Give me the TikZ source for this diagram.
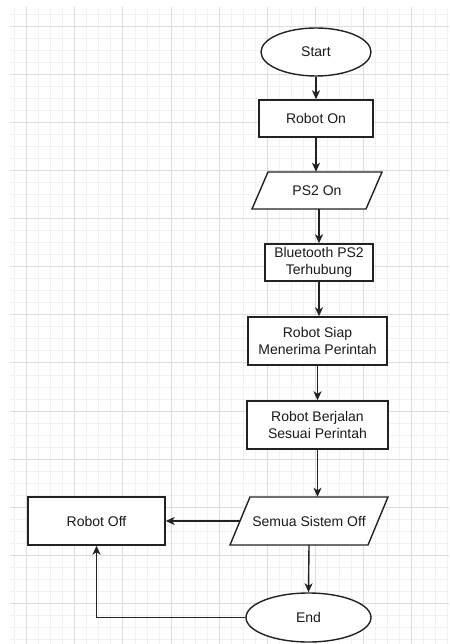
\documentclass[tikz,border=0pt]{standalone}
\usepackage{fontspec}
\setmainfont{Liberation Sans}
\usepackage{tikz}
\usetikzlibrary{shapes.geometric,arrows.meta}
\usepackage{xcolor}

\definecolor{minorgrid}{HTML}{F1F1F1}
\definecolor{majorgrid}{HTML}{DCDCDC}
\definecolor{inktext}{HTML}{1A1A1A}
\definecolor{ink}{HTML}{222222}

\tikzset{
	terminal/.style={ellipse,draw=ink,line width=1.4pt,fill=white,inner sep=0pt,text=inktext},
	process/.style={rectangle,draw=ink,line width=1.4pt,fill=white,inner sep=0pt,align=center,text=inktext},
	inout/.style={rectangle,inner sep=0pt,text=inktext},
	pgram/.style={draw=ink,line width=1.4pt,fill=white,line join=miter},
	flow/.style={draw=ink,line width=1.4pt,-{Stealth[length=9pt,width=8pt,inset=2.5pt]}}
}

\begin{document}
\begin{tikzpicture}[x=1pt,y=-1pt,font=\fontsize{14}{17}\selectfont]
			\useasboundingbox (0,0) rectangle (449,644);
			\fill[white] (0,0) rectangle (449,644);
			% grid
			\foreach \i in {0,...,36}
				\draw[minorgrid,line width=0.8pt] ({14.6+12.03*\i},7) -- ({14.6+12.03*\i},644);
			\foreach \j in {0,...,52}
				\draw[minorgrid,line width=0.8pt] (10,{14+12.03*\j}) -- (449,{14+12.03*\j});
			\foreach \i in {0,...,8}
				\draw[majorgrid,line width=0.9pt] ({26.7+48.12*\i},7) -- ({26.7+48.12*\i},644);
			\foreach \j in {0,...,12}
				\draw[majorgrid,line width=0.9pt] (10,{26+48.12*\j}) -- (449,{26+48.12*\j});

			\coordinate (pStart) at (316,52);
			\coordinate (pOn) at (316,118.5);
			\coordinate (pPs) at (317,190.5);
			\coordinate (pBt) at (319,262.5);
			\coordinate (pSiap) at (317.5,341);
			\coordinate (pJalan) at (317.5,425);
			\coordinate (pSysOff) at (309,521);
			\coordinate (pOff) at (96.5,521);
			\coordinate (pEnd) at (308.5,617.5);

			% parallelograms: outline first, text node on top
			\path (pPs) +(-65,18.5) coordinate (ps2a) +(-49,-18.5) coordinate (ps2b)
				+(65,-18.5) coordinate (ps2c) +(49,18.5) coordinate (ps2d);
			\draw[pgram] (ps2a) -- (ps2b) -- (ps2c) -- (ps2d) -- cycle;
			\path (pSysOff) +(-79,24) coordinate (sysa) +(-59,-24) coordinate (sysb)
				+(79,-24) coordinate (sysc) +(59,24) coordinate (sysd);
			\draw[pgram] (sysa) -- (sysb) -- (sysc) -- (sysd) -- cycle;

			\node[terminal,minimum width=110pt,minimum height=48pt] (start) at (pStart) {Start};
			\node[process,minimum width=114pt,minimum height=37pt] (roboton) at (pOn) {Robot On};
			\node[inout,minimum width=114pt,minimum height=37pt] (ps2on) at (pPs) {PS2 On};
			\node[process,minimum width=108pt,minimum height=37pt] (bluetooth) at (pBt) {Bluetooth PS2\\Terhubung};
			\node[process,minimum width=139pt,minimum height=48pt] (siap) at (pSiap) {Robot Siap\\Menerima Perintah};
			\node[process,minimum width=141pt,minimum height=48pt] (berjalan) at (pJalan) {Robot Berjalan\\Sesuai Perintah};
			\node[inout,minimum width=138pt,minimum height=48pt] (sistemoff) at (pSysOff) {Semua Sistem Off};
			\node[process,minimum width=137pt,minimum height=48pt] (robotoff) at (pOff) {Robot Off};
			\node[terminal,minimum width=125pt,minimum height=49pt] (selesai) at (pEnd) {End};

			\draw[flow] (start) -- (roboton);
			\draw[flow] (roboton) -- (roboton |- ps2on.north);
			\draw[flow] (ps2on.south -| bluetooth) -- (bluetooth);
			\draw[flow] (bluetooth) -- (bluetooth |- siap.north);
			\draw[flow] (siap) -- (siap |- berjalan.north);
			\draw[flow] (berjalan.south) -- (berjalan.south |- sistemoff.north);
			\draw[flow] (sistemoff.west) -- (robotoff.east);
			\draw[flow] (sistemoff.south) -- (selesai.north);
			\draw[flow] (selesai.west) -| (robotoff.south);
		\end{tikzpicture}
\end{document}
